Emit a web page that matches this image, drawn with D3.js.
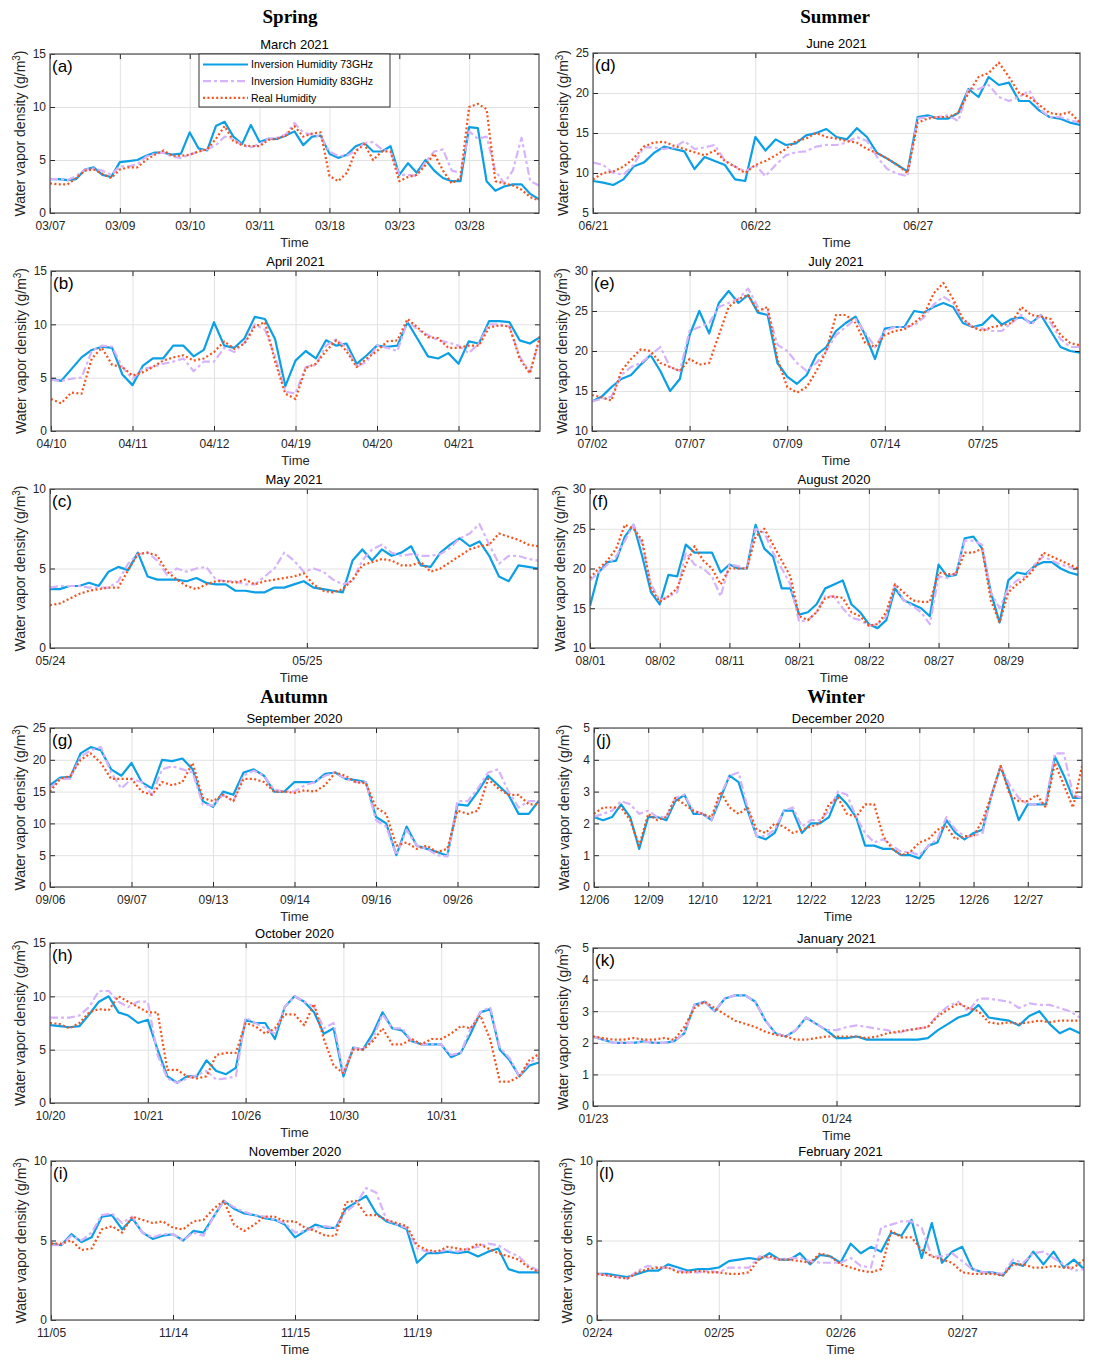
<!DOCTYPE html>
<html>
<head>
<meta charset="utf-8">
<script src="https://cdn.jsdelivr.net/npm/d3@7"></script>
<style>
  body { margin: 0; background: #fff; }
  text { font-family: "Liberation Sans", Arial, sans-serif; }
</style>
</head>
<body>
<svg id="chart" width="1094" height="1369"></svg>
<script>
// series names, in draw order
var seriesNames = ["Inversion Humidity 73GHz", "Inversion Humidity 83GHz", "Real Humidity"];

// (a) March 2021
var aTicks = ["03/07", "03/09", "03/10", "03/11", "03/18", "03/23", "03/28"];
var aYTicks = [0, 5, 10, 15];
var a73 = [3.2,3.2,3.1,3.2,4.1,4.3,3.6,3.4, 4.8,4.9,5.0,5.4,5.7,5.7,5.5,5.6, 7.6,6.1,5.9,8.2,8.6,7.2,6.5,8.3, 6.7,7.0,7.0,7.3,7.7,6.4,7.2,7.3, 5.6,5.2,5.5,6.3,6.6,5.8,5.8,6.3, 3.6,4.7,3.8,5.0,4.0,3.3,3.0,3.0, 8.1,8.0,3.0,2.1,2.5,2.7,2.7,1.8, 1.3];
var a83 = [3.2,3.2,3.1,3.5,4.1,4.2,4.0,3.6, 4.4,4.4,4.6,5.3,5.6,5.7,5.3,5.2, 5.5,5.8,6.0,6.4,7.2,7.0,6.4,6.2, 6.5,7.0,7.1,7.4,8.5,7.6,7.4,7.2, 5.8,5.4,5.4,5.9,6.6,6.7,6.0,5.8, 3.6,3.6,3.5,4.8,5.8,6.0,4.0,3.8, 7.7,7.0,7.2,4.0,2.8,4.0,7.1,3.0, 2.6];
var aReal = [2.8,2.7,2.7,3.3,4.0,4.1,3.7,3.3, 4.1,4.3,4.3,5.0,5.5,5.9,5.4,5.4, 5.5,5.8,6.0,7.0,8.2,6.8,6.4,6.3, 6.3,6.9,7.0,7.3,8.2,7.2,7.5,7.6, 3.5,3.0,3.8,5.8,6.5,5.0,5.8,5.8, 3.0,3.4,3.6,4.5,5.6,4.0,2.8,3.3, 10.0,10.3,9.8,3.0,2.8,2.6,2.2,1.5, 1.2];

// (b) April 2021
var bTicks = ["04/10", "04/11", "04/12", "04/19", "04/20", "04/21"];
var bYTicks = [0, 5, 10, 15];
var b73 = [4.9,4.7,5.8,6.9,7.6,7.9,7.8,5.3, 4.3,6.1,6.8,6.8,8.0,8.0,7.0,7.6, 10.2,8.0,7.8,8.7,10.7,10.5,8.6,4.2, 6.6,7.5,6.8,8.5,8.0,8.2,6.3,7.1, 8.0,7.9,8.0,10.2,8.6,7.0,6.8,7.3, 6.3,8.4,8.2,10.3,10.3,10.2,8.5,8.2, 8.8];
var b83 = [4.8,4.7,4.9,5.0,7.5,8.0,7.9,6.0, 4.9,5.8,6.0,6.3,6.5,6.8,5.6,6.5, 6.5,7.8,7.4,8.3,10.0,9.5,7.0,3.7, 3.5,6.0,6.2,8.0,8.6,7.8,6.0,6.5, 8.0,7.8,7.5,10.3,9.5,9.0,8.5,8.3, 8.0,7.3,8.2,10.0,10.0,9.8,7.0,5.5, 8.6];
var bReal = [3.0,2.6,3.6,3.5,6.8,7.8,6.2,6.0, 5.2,5.5,6.0,6.6,6.9,7.1,6.6,6.8, 7.4,8.4,7.7,8.2,9.8,10.2,6.5,3.5, 3.0,5.9,6.3,7.5,8.5,7.5,6.0,6.8, 7.5,8.4,8.5,10.5,9.7,8.8,8.7,7.8, 7.8,8.0,8.0,9.7,9.9,9.8,6.8,5.4, 8.9];

// (c) May 2021
var cTicks = ["05/24", "05/25"];
var cYTicks = [0, 5, 10];
var c73 = [3.7,3.7,3.9,3.9,4.1,3.9,4.8,5.1,4.9,6.0, 4.5,4.3,4.3,4.3,4.2,4.4,4.1,4.0,4.0,3.6, 3.6,3.5,3.5,3.8,3.8,4.0,4.2,3.8,3.7,3.6, 3.5,5.5,6.2,5.5,6.2,5.8,6.0,6.4,5.2,5.1, 6.0,6.5,6.9,6.4,6.7,5.8,4.5,4.2,5.2,5.1, 5.0];
var c83 = [3.8,3.9,3.9,3.9,3.8,3.8,3.8,4.2,5.3,5.9, 6.0,5.5,4.6,5.0,4.8,5.0,5.1,4.3,4.2,4.2, 4.0,4.0,4.5,5.0,6.0,5.5,4.8,5.0,4.8,4.3, 4.0,4.2,5.5,6.2,6.5,6.0,5.8,5.9,5.8,5.8, 5.9,6.3,6.9,7.2,7.8,6.5,5.3,5.8,5.8,5.6, 5.5];
var cReal = [2.7,2.8,3.1,3.4,3.6,3.7,3.8,3.8,4.9,5.9, 6.0,5.8,4.8,4.3,3.9,3.7,4.0,4.2,4.2,4.1, 4.3,4.0,4.2,4.3,4.4,4.5,4.7,4.0,3.6,3.5, 3.7,4.3,5.2,5.4,5.6,5.5,5.2,5.2,5.4,4.8, 5.0,5.4,5.8,6.2,6.4,6.5,7.2,7.0,6.8,6.5, 6.4];

// (d) June 2021
var dTicks = ["06/21", "06/22", "06/27"];
var dYTicks = [5, 10, 15, 20, 25];
var d73 = [9.0,8.8,8.5,9.2,10.8,11.3,12.5,13.3, 13.0,12.7,10.5,12.0,11.5,11.0,9.2,9.0, 14.5,12.8,14.2,13.5,13.7,14.7,15.0,15.5, 14.5,14.2,15.6,14.5,12.5,11.8,11.0,10.2, 17.0,17.2,16.8,16.8,17.5,20.5,19.5,22.0, 21.0,21.3,19.0,19.0,17.8,17.0,16.8,16.3, 16.0];
var d83 = [11.3,11.0,10.0,9.8,11.0,13.2,13.2,13.0, 13.2,14.0,13.0,13.2,13.5,11.5,10.8,10.2, 11.0,9.6,11.0,12.2,12.6,12.7,13.3,13.5, 13.5,13.8,14.5,14.0,12.0,10.5,9.9,9.6, 16.8,17.0,17.0,17.2,16.5,20.5,20.5,21.0, 19.5,19.0,19.5,20.3,18.0,17.0,17.0,16.6, 16.3];
var dReal = [9.2,10.0,10.2,10.8,11.8,13.3,13.8,13.9, 13.4,13.0,12.6,12.2,12.8,11.5,10.8,10.0, 11.0,11.5,12.2,13.0,14.0,14.3,15.0,14.5, 14.3,14.0,13.8,13.0,12.5,11.8,11.0,10.0, 16.3,16.8,17.0,17.0,17.5,20.0,22.0,22.5, 23.8,22.0,20.0,19.5,18.5,17.5,17.3,17.6, 16.3];

// (e) July 2021
var eTicks = ["07/02", "07/07", "07/09", "07/14", "07/25"];
var eYTicks = [10, 15, 20, 25, 30];
var e73 = [13.7,14.3,15.5,16.5,17.0,18.3,19.5,17.5,15.0,16.5, 22.0,25.0,22.2,26.0,27.5,26.0,27.0,24.8,24.5,18.5, 16.8,15.9,17.0,19.5,20.5,22.5,23.5,24.3,22.0,19.0, 22.8,23.0,23.0,25.0,24.8,25.5,26.0,25.5,23.5,23.0, 23.3,24.5,23.3,24.0,24.2,23.5,24.5,22.5,20.5,20.0, 19.8];
var e83 = [13.7,14.0,14.3,17.0,18.0,18.5,19.5,20.5,18.0,17.5, 22.5,23.0,23.5,25.5,26.0,26.5,27.8,25.5,25.0,20.8, 20.0,18.5,17.5,18.5,20.0,22.0,23.0,24.0,22.3,20.5, 22.5,23.0,23.0,23.2,24.2,25.8,26.8,26.0,24.0,23.0, 22.8,22.5,22.5,23.5,24.5,23.3,24.5,23.5,21.5,20.5, 20.5];
var eReal = [14.5,14.2,13.8,17.5,19.0,20.2,20.0,18.5,18.0,17.5, 19.0,18.3,18.5,22.0,25.5,26.5,27.0,25.0,25.5,19.0, 15.5,14.8,15.5,17.5,20.0,24.5,24.5,23.5,21.0,20.5, 22.0,22.5,22.7,23.5,24.5,27.2,28.5,26.5,24.0,23.0, 22.5,23.0,23.2,23.5,25.5,24.5,24.3,24.0,22.0,21.0, 20.7];

// (f) August 2020
var fTicks = ["08/01", "08/02", "08/11", "08/21", "08/22", "08/27", "08/29"];
var fYTicks = [10, 15, 20, 25, 30];
var f73 = [15.3,19.5,20.8,21.0,24.0,25.5,21.5,17.0, 15.5,19.2,19.0,23.0,22.0,22.0,22.0,19.5, 20.5,20.0,20.0,25.5,22.5,21.5,17.5,17.5, 14.2,14.5,15.5,17.5,18.0,18.5,15.5,14.5, 13.0,12.5,13.5,17.5,16.0,15.5,15.0,14.0, 20.5,19.0,19.2,23.8,24.0,22.5,17.0,13.2, 18.5,19.5,19.3,20.3,20.8,20.8,20.0,19.5, 19.2];
var f83 = [18.5,19.5,20.5,21.5,23.5,25.5,23.0,18.0, 16.0,16.5,17.0,22.0,20.5,20.0,19.0,16.5, 20.5,20.3,20.0,25.0,24.5,22.0,20.0,18.0, 13.3,13.5,14.5,16.5,16.5,15.0,13.8,13.5, 12.8,13.0,14.0,18.0,16.0,15.3,14.5,13.0, 19.0,18.8,19.5,23.5,23.5,23.0,17.0,15.0, 17.5,18.5,19.0,20.5,21.5,21.0,20.5,20.2, 19.8];
var fReal = [18.8,20.0,21.0,22.5,25.5,25.0,23.5,17.5, 15.8,16.5,17.5,20.5,22.8,21.0,20.0,18.0, 20.0,20.0,20.0,24.0,25.0,23.0,21.0,19.0, 14.0,13.5,14.5,16.3,16.5,16.3,14.5,14.0, 12.8,13.0,14.5,18.0,17.0,16.0,15.8,15.8, 19.5,19.3,19.3,22.0,22.0,22.5,16.0,13.2, 17.0,18.0,18.8,20.0,22.0,21.5,21.0,20.5, 20.0];

// (g) September 2020
var gTicks = ["09/06", "09/07", "09/13", "09/14", "09/16", "09/26"];
var gYTicks = [0, 5, 10, 15, 20, 25];
var g73 = [16.0,17.2,17.3,21.0,22.0,21.5,18.5,17.5, 19.5,16.5,15.5,20.0,19.8,20.2,18.5,13.5, 12.6,15.0,14.5,18.0,18.5,17.5,15.0,15.0, 16.5,16.5,16.5,17.8,18.0,17.0,16.8,16.5, 11.0,10.0,5.0,9.5,6.5,6.0,5.5,4.9, 13.0,12.8,15.0,17.5,16.0,14.5,11.5,11.5, 13.6];
var g83 = [15.5,17.0,17.0,20.5,21.5,22.0,18.0,15.5, 17.0,16.5,14.5,18.5,19.0,18.5,18.0,13.0, 12.8,14.5,13.5,17.5,18.3,17.5,15.3,15.0, 15.0,16.0,16.5,17.5,18.0,17.0,16.5,16.5, 10.5,9.5,5.0,9.0,6.5,6.0,5.0,4.8, 13.5,13.5,15.5,18.0,18.5,15.0,12.5,13.5, 13.5];
var gReal = [15.0,17.0,17.5,20.0,21.0,19.5,17.0,17.0, 17.0,15.0,14.5,16.5,16.0,16.5,19.5,14.0, 13.5,14.5,13.5,17.0,17.0,16.5,15.0,15.0, 14.8,15.2,15.0,16.0,18.0,17.5,16.5,16.3, 12.5,11.5,6.5,7.0,6.0,6.5,5.5,6.0, 12.0,11.5,12.0,17.0,15.5,14.5,14.5,13.0, 13.0];

// (h) October 2020
var hTicks = ["10/20", "10/21", "10/26", "10/30", "10/31"];
var hYTicks = [0, 5, 10, 15];
var h73 = [7.3,7.2,7.1,7.2,8.3,9.5,10.0,8.5,8.2,7.5, 7.8,5.0,2.5,1.9,2.5,2.5,4.0,3.0,2.7,3.3, 7.8,7.5,7.5,6.0,9.0,10.0,9.5,8.5,6.5,7.0, 2.5,5.2,5.0,6.5,8.5,7.0,6.8,5.8,5.5,5.5, 5.5,4.3,4.7,6.5,8.5,8.8,5.0,4.0,2.5,3.5, 3.8];
var h83 = [8.0,8.0,8.0,8.2,9.0,10.5,10.5,9.5,9.0,9.5, 9.5,4.5,2.3,1.9,2.3,2.6,3.0,2.2,2.3,2.5, 8.0,7.5,7.0,6.5,9.0,10.0,9.5,9.0,7.0,7.5, 2.8,5.2,5.0,6.0,8.3,7.0,7.0,5.8,5.5,5.5, 5.5,4.5,4.7,7.0,8.5,9.0,5.2,4.2,2.5,3.8, 4.2];
var hReal = [7.5,7.4,7.0,7.5,8.5,8.8,8.7,10.0,9.5,9.0, 8.5,8.5,3.1,3.1,2.5,2.3,2.5,4.5,4.7,4.7, 7.5,7.2,6.5,7.0,8.3,8.3,7.3,9.3,6.0,3.5, 2.8,5.0,5.0,5.8,7.0,5.5,5.5,6.0,5.5,6.0, 6.0,6.5,7.2,7.0,8.2,6.0,2.0,2.0,2.5,4.0, 4.6];

// (i) November 2020
var iTicks = ["11/05", "11/14", "11/15", "11/19"];
var iYTicks = [0, 5, 10];
var i73 = [4.8,4.7,5.4,4.9,5.2,6.5,6.6,5.7,6.4,5.5,5.1,5.3, 5.4,5.0,5.6,5.5,6.5,7.5,7.0,6.7,6.6,6.4,6.3,6.0, 5.2,5.6,6.0,5.8,5.8,7.0,7.4,7.8,6.7,6.2,6.0,5.7, 3.6,4.2,4.2,4.3,4.2,4.3,4.0,4.3,4.5,3.2,3.0,3.0, 3.0];
var i83 = [4.7,4.7,5.3,5.0,5.5,6.6,6.7,6.1,6.5,5.5,5.2,5.4, 5.4,5.0,5.5,5.3,6.5,7.5,7.1,6.8,6.6,6.5,6.3,6.1, 5.5,5.6,5.8,5.9,5.8,6.8,7.3,8.3,8.0,6.3,6.0,5.8, 4.5,4.3,4.3,4.4,4.3,4.5,4.6,4.8,4.7,4.3,4.0,3.4, 3.1];
var iReal = [4.8,4.8,5.0,4.4,4.5,5.7,5.9,5.5,6.5,6.3,6.1,6.2, 5.8,5.7,6.2,6.3,7.0,7.5,6.0,5.6,6.0,6.5,6.5,6.2, 6.2,5.8,5.6,5.3,5.3,7.4,7.5,6.6,6.6,6.3,6.1,5.9, 4.7,4.4,4.3,4.6,4.5,4.4,4.8,4.5,4.2,4.0,3.8,3.3, 3.0];

// (j) December 2020
var jTicks = ["12/06", "12/09", "12/10", "12/21", "12/22", "12/23", "12/25", "12/26", "12/27"];
var jYTicks = [0, 1, 2, 3, 4, 5];
var j73 = [2.2,2.1,2.2,2.6,2.2,1.2, 2.2,2.2,2.1,2.7,2.9,2.3, 2.3,2.1,2.8,3.5,3.3,2.4, 1.6,1.5,1.7,2.4,2.4,1.7, 2.0,2.0,2.2,2.9,2.6,2.2, 1.3,1.3,1.2,1.2,1.0,1.0, 0.9,1.3,1.4,2.1,1.7,1.5, 1.7,1.8,2.9,3.8,3.0,2.1, 2.6,2.6,2.6,4.1,3.5,2.8, 2.8];
var j83 = [2.2,2.3,2.4,2.7,2.6,2.3, 2.4,2.2,2.2,2.8,2.9,2.4, 2.3,2.1,2.9,3.5,3.6,2.5, 1.6,1.6,1.8,2.4,2.5,1.9, 2.1,2.1,2.4,3.0,2.9,2.2, 1.7,1.4,1.5,1.3,1.1,1.1, 1.0,1.3,1.5,2.2,1.8,1.6, 1.6,1.7,2.9,3.8,3.2,2.8, 2.6,2.6,2.7,4.2,4.2,2.9, 2.8];
var jReal = [2.3,2.5,2.5,2.5,2.1,1.3, 2.3,2.1,2.2,2.8,2.6,2.4, 2.3,2.2,3.0,2.5,2.3,2.5, 1.8,1.7,2.0,1.9,1.7,1.8, 1.9,2.0,2.6,2.8,2.3,2.2, 2.6,2.6,1.6,1.2,1.0,1.1, 1.4,1.5,1.8,1.9,1.5,1.6, 1.6,2.1,2.9,3.8,2.9,2.7, 2.7,2.9,2.5,3.9,3.2,2.5, 3.8];

// (k) January 2021
var kTicks = ["01/23", "01/24"];
var kYTicks = [0, 1, 2, 3, 4, 5];
var k73 = [2.2,2.1,2.0,2.0,2.0,2.05,2.0,2.0,2.05,2.3,3.2,3.3, 3.0,3.4,3.5,3.5,3.3,2.7,2.3,2.2,2.4,2.8,2.6,2.4, 2.15,2.15,2.2,2.1,2.1,2.1,2.1,2.1,2.1,2.15,2.4,2.6, 2.8,2.9,3.2,2.8,2.75,2.7,2.55,2.85,3.0,2.6,2.3,2.45, 2.3];
var k83 = [2.2,2.1,2.0,2.0,2.0,2.05,2.0,2.0,2.05,2.3,3.2,3.3, 3.0,3.4,3.5,3.5,3.3,2.7,2.3,2.2,2.4,2.8,2.6,2.4, 2.4,2.5,2.55,2.5,2.45,2.4,2.3,2.4,2.45,2.5,2.9,3.15, 3.3,3.0,3.4,3.4,3.35,3.3,3.1,3.25,3.2,3.2,3.1,3.0, 2.8];
var kReal = [2.2,2.15,2.1,2.1,2.15,2.1,2.1,2.15,2.1,2.5,3.1,3.3, 3.1,2.9,2.7,2.6,2.5,2.35,2.25,2.2,2.1,2.1,2.15,2.2, 2.2,2.2,2.2,2.15,2.2,2.3,2.35,2.4,2.45,2.5,2.85,3.05, 3.25,3.1,3.0,2.65,2.6,2.65,2.6,2.65,2.7,2.65,2.7,2.7, 2.7];

// (l) February 2021
var lTicks = ["02/24", "02/25", "02/26", "02/27"];
var lYTicks = [0, 5, 10];
var l73 = [2.9,2.9,2.8,2.7,2.9,3.1,3.1,3.5,3.3,3.1,3.2,3.2, 3.3,3.7,3.8,3.9,3.8,4.2,3.8,3.8,4.2,3.5,4.1,4.0, 3.6,4.8,4.2,4.6,4.3,5.5,5.3,6.3,3.9,6.1,3.6,4.3, 4.6,3.2,3.0,3.0,2.8,3.6,3.4,4.3,3.5,4.3,3.3,3.8, 3.2];
var l83 = [2.9,2.8,2.7,2.6,3.1,3.4,3.3,3.3,3.1,3.0,3.0,3.1, 3.0,3.3,3.3,3.3,4.0,3.9,3.8,3.9,3.9,3.7,3.6,3.6, 3.6,3.9,3.4,3.3,5.8,6.0,6.2,6.2,5.8,4.0,4.0,4.2, 3.7,3.2,3.0,3.0,2.9,3.8,3.6,4.2,4.3,3.9,3.5,3.1, 3.2];
var lReal = [2.9,2.8,2.7,2.6,3.0,3.2,3.3,3.3,3.0,3.0,3.1,3.0, 3.0,2.9,2.9,3.0,3.9,4.0,3.8,3.8,3.7,3.6,4.2,4.0, 3.5,3.3,3.1,3.0,3.2,5.6,5.2,5.2,4.4,4.0,3.8,3.6, 3.0,2.9,2.9,2.9,2.8,3.5,3.5,3.3,3.3,3.4,3.3,3.3, 3.8];

// panels: data + where they sit on the page  [left, top, right, bottom]
var panels = [
    {tag: "(a)", title: "March 2021",     ticks: aTicks, yTicks: aYTicks, xMax: 7,   series: [a73, a83, aReal], box: [50, 54, 539, 213]},
    {tag: "(b)", title: "April 2021",     ticks: bTicks, yTicks: bYTicks, xMax: 6,   series: [b73, b83, bReal], box: [51, 271, 540, 431]},
    {tag: "(c)", title: "May 2021",       ticks: cTicks, yTicks: cYTicks, xMax: 1.9, series: [c73, c83, cReal], box: [50, 489, 538, 648]},
    {tag: "(d)", title: "June 2021",      ticks: dTicks, yTicks: dYTicks, xMax: 3,   series: [d73, d83, dReal], box: [593, 53, 1080, 213]},
    {tag: "(e)", title: "July 2021",      ticks: eTicks, yTicks: eYTicks, xMax: 5,   series: [e73, e83, eReal], box: [592, 271, 1080, 431]},
    {tag: "(f)", title: "August 2020",    ticks: fTicks, yTicks: fYTicks, xMax: 7,   series: [f73, f83, fReal], box: [590, 489, 1078, 648]},
    {tag: "(g)", title: "September 2020", ticks: gTicks, yTicks: gYTicks, xMax: 6,   series: [g73, g83, gReal], box: [50, 728, 539, 887]},
    {tag: "(h)", title: "October 2020",   ticks: hTicks, yTicks: hYTicks, xMax: 5,   series: [h73, h83, hReal], box: [50, 943, 539, 1103]},
    {tag: "(i)", title: "November 2020",  ticks: iTicks, yTicks: iYTicks, xMax: 4,   series: [i73, i83, iReal], box: [51, 1161, 539, 1320]},
    {tag: "(j)", title: "December 2020",  ticks: jTicks, yTicks: jYTicks, xMax: 9,   series: [j73, j83, jReal], box: [594, 728, 1082, 887]},
    {tag: "(k)", title: "January 2021",   ticks: kTicks, yTicks: kYTicks, xMax: 2,   series: [k73, k83, kReal], box: [593, 948, 1080, 1106]},
    {tag: "(l)", title: "February 2021",  ticks: lTicks, yTicks: lYTicks, xMax: 4,   series: [l73, l83, lReal], box: [597, 1161, 1084, 1320]}
];

var seasons = [
    {text: "Spring", x: 290, y: 23},
    {text: "Summer", x: 835, y: 23},
    {text: "Autumn", x: 294, y: 703},
    {text: "Winter", x: 836, y: 703}
];

var styles = [
    {color: "#0b9fe6", width: 2.2, dash: null},
    {color: "#d6b3fa", width: 2.2, dash: "8,3,3,3"},
    {color: "#f5521c", width: 2.2, dash: "2,2.4"}
];

var svg = d3.select("#chart");
var axisColor = "#262626";

seasons.forEach(function(s) {
    svg.append("text")
        .attr("x", s.x).attr("y", s.y)
        .attr("text-anchor", "middle")
        .style("font-family", "'Liberation Serif', 'Times New Roman', serif")
        .style("font-weight", "bold")
        .style("font-size", "19px")
        .text(s.text);
});

panels.forEach(function(p, n) {
    var x0 = p.box[0], y0 = p.box[1], x1 = p.box[2], y1 = p.box[3];
    var x = d3.scaleLinear().domain([0, p.xMax]).range([x0, x1]);
    var y = d3.scaleLinear().domain([p.yTicks[0], p.yTicks[p.yTicks.length - 1]]).range([y1, y0]);
    var tickIdx = d3.range(p.ticks.length);
    var g = svg.append("g");

    g.append("rect").attr("x", x0).attr("y", y0)
        .attr("width", x1 - x0).attr("height", y1 - y0).attr("fill", "#fff");

    // grid
    var gx = g.append("g").attr("transform", "translate(0," + y1 + ")")
        .call(d3.axisBottom(x).tickValues(tickIdx).tickSize(-(y1 - y0)).tickFormat(""));
    var gy = g.append("g").attr("transform", "translate(" + x0 + ",0)")
        .call(d3.axisLeft(y).tickValues(p.yTicks).tickSize(-(x1 - x0)).tickFormat(""));
    [gx, gy].forEach(function(a) {
        a.select(".domain").remove();
        a.selectAll("line").attr("stroke", "#e2e2e2").attr("stroke-width", 1);
    });

    // lines
    var clipId = "clip" + n;
    svg.append("clipPath").attr("id", clipId).append("rect")
        .attr("x", x0).attr("y", y0).attr("width", x1 - x0).attr("height", y1 - y0);
    var plot = g.append("g").attr("clip-path", "url(#" + clipId + ")");
    p.series.forEach(function(vals, k) {
        var step = p.xMax / (vals.length - 1);
        var line = d3.line()
            .x(function(d, i) { return x(i * step); })
            .y(function(d) { return y(d); });
        plot.append("path").datum(vals)
            .attr("d", line)
            .attr("fill", "none")
            .attr("stroke", styles[k].color)
            .attr("stroke-width", styles[k].width)
            .attr("stroke-linejoin", "round")
            .attr("stroke-dasharray", styles[k].dash);
    });

    // axes, ticks pointing in
    var bottom = g.append("g").attr("transform", "translate(0," + y1 + ")")
        .call(d3.axisBottom(x).tickValues(tickIdx)
            .tickFormat(function(i) { return p.ticks[i]; })
            .tickSize(-5).tickPadding(8));
    var top = g.append("g").attr("transform", "translate(0," + y0 + ")")
        .call(d3.axisTop(x).tickValues(tickIdx).tickFormat("").tickSize(-5));
    var left = g.append("g").attr("transform", "translate(" + x0 + ",0)")
        .call(d3.axisLeft(y).tickValues(p.yTicks).tickFormat(d3.format("d"))
            .tickSize(-5).tickPadding(4));
    var right = g.append("g").attr("transform", "translate(" + x1 + ",0)")
        .call(d3.axisRight(y).tickValues(p.yTicks).tickFormat("").tickSize(-5));
    [bottom, top, left, right].forEach(function(a) {
        a.select(".domain").remove();
        a.selectAll("line").attr("stroke", axisColor);
        a.selectAll("text").attr("fill", axisColor).style("font-size", "12px")
            .style("font-family", "'Liberation Sans', Arial, sans-serif");
    });

    g.append("rect").attr("x", x0).attr("y", y0)
        .attr("width", x1 - x0).attr("height", y1 - y0)
        .attr("fill", "none").attr("stroke", "#4d4d4d").attr("stroke-width", 1.2);

    // texts
    var cx = (x0 + x1) / 2;
    g.append("text").attr("x", cx).attr("y", y0 - 5.5)
        .attr("text-anchor", "middle").style("font-size", "13px").text(p.title);
    g.append("text").attr("x", cx).attr("y", y1 + 34)
        .attr("text-anchor", "middle").attr("fill", axisColor).style("font-size", "13px").text("Time");
    g.append("text").attr("x", x0 + 2).attr("y", y0 + 18)
        .style("font-size", "17px").text(p.tag);

    var ylab = g.append("text")
        .attr("transform", "translate(" + (x0 - 25) + "," + ((y0 + y1) / 2) + ") rotate(-90)")
        .attr("text-anchor", "middle").attr("fill", axisColor).style("font-size", "14px");
    ylab.append("tspan").text("Water vapor density (g/m");
    ylab.append("tspan").attr("dy", -5).style("font-size", "10px").text("3");
    ylab.append("tspan").attr("dy", 5).text(")");
});

// legend inside panel (a)
var legend = svg.append("g");
legend.append("rect").attr("x", 199).attr("y", 54).attr("width", 191).attr("height", 53)
    .attr("fill", "#fff").attr("stroke", "#333").attr("stroke-width", 1);
seriesNames.forEach(function(name, k) {
    var ly = 64.5 + k * 16.7;
    legend.append("line").attr("x1", 203).attr("x2", 248).attr("y1", ly).attr("y2", ly)
        .attr("stroke", styles[k].color).attr("stroke-width", styles[k].width)
        .attr("stroke-dasharray", styles[k].dash);
    legend.append("text").attr("x", 251).attr("y", ly + 3.7)
        .style("font-size", "10.5px").text(name);
});
</script>
</body>
</html>
